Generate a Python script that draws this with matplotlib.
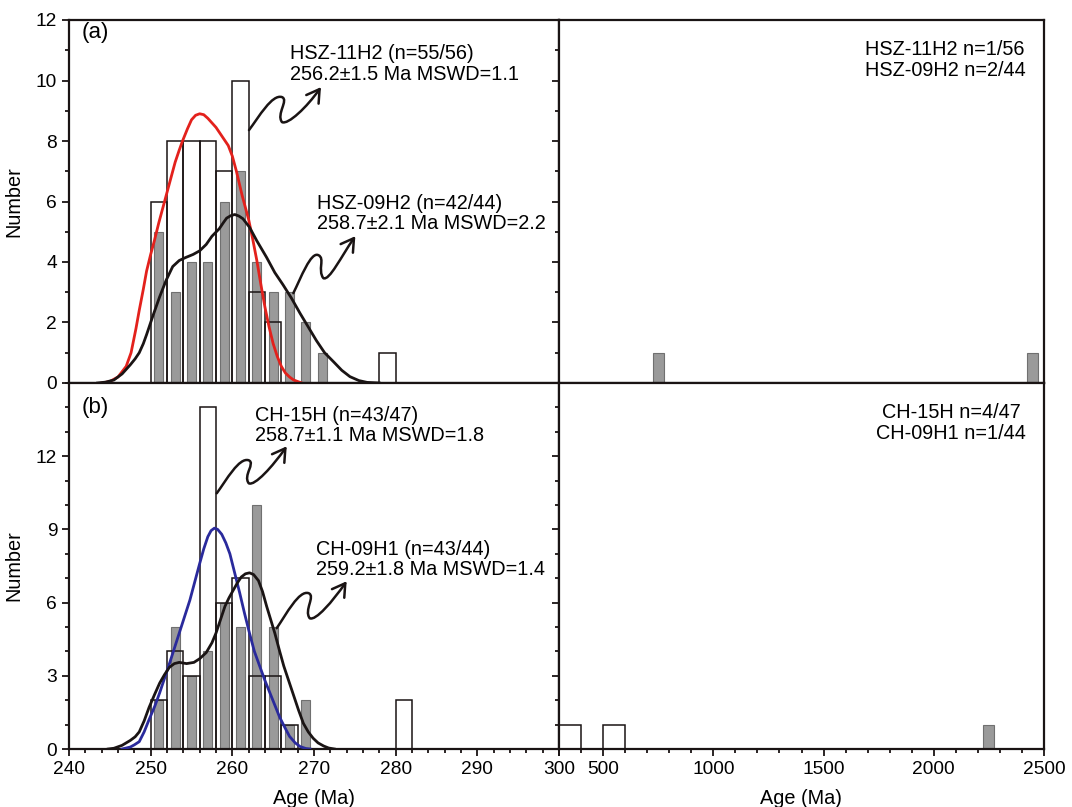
import matplotlib
matplotlib.use('Agg')
import matplotlib.pyplot as plt
import matplotlib.transforms as mtransforms
from matplotlib.path import Path
from matplotlib.patches import FancyArrowPatch
from matplotlib.ticker import MultipleLocator

plt.rcParams['font.family'] = ['Liberation Sans', 'DejaVu Sans']

# ---- data ----
# (a) HSZ-11H2 open bars (bin left edges, 2 Ma bins) and HSZ-09H2 grey bars (bin centres)
a_open_edges = [250, 252, 254, 256, 258, 260, 262, 264, 278]
a_open_counts = [6, 8, 8, 8, 7, 10, 3, 2, 1]
a_grey_centres = [251, 253, 255, 257, 259, 261, 263, 265, 267, 269, 271]
a_grey_counts = [5, 3, 4, 4, 6, 7, 4, 3, 3, 2, 1]

# (b) CH-15H open bars and CH-09H1 grey bars
b_open_edges = [250, 252, 254, 256, 258, 260, 262, 264, 266, 280]
b_open_counts = [2, 4, 3, 14, 6, 7, 3, 3, 1, 2]
b_grey_centres = [251, 253, 255, 257, 259, 261, 263, 265, 267, 269]
b_grey_counts = [2, 5, 3, 4, 6, 5, 10, 5, 1, 2]

# older grains (right panels)
a_old_grey = [750, 2450]
a_old_grey_counts = [1, 1]
b_old_open = [300, 500]
b_old_open_counts = [1, 1]
b_old_grey = [2250]
b_old_grey_counts = [1]

# density curves
red_age = [244, 245, 246, 247, 247.6, 248.2, 248.6, 249.1, 249.5, 250, 250.45, 251, 251.7,
           252.4, 253, 253.5, 253.9, 254.5, 255, 255.5, 256, 256.5, 257, 257.5, 258,
           258.5, 259, 259.5, 260, 260.5, 261.2, 262, 262.5, 263, 263.5, 264, 264.5,
           265, 265.5, 266, 266.5, 267, 267.5, 268.5]
red_val = [0.0, 0.05, 0.2, 0.55, 1.0, 1.8, 2.4, 3.1, 3.7, 4.25, 4.7, 5.3, 6.0,
           6.7, 7.3, 7.7, 8.0, 8.4, 8.7, 8.85, 8.9, 8.87, 8.75, 8.6, 8.45,
           8.25, 8.05, 7.85, 7.5, 7.0, 6.2, 5.4, 4.75, 4.05, 3.25, 2.5, 1.85,
           1.3, 0.88, 0.55, 0.33, 0.2, 0.1, 0.0]

blka_age = [243.5, 244.5, 245.5, 246.5, 247.5, 248.1, 248.6, 249.1, 249.5, 250.25, 251.1,
            251.9, 252.7, 253.5, 254.3, 255.2, 256, 256.8, 257.5, 258.4, 258.9, 259.3,
            259.8, 260.3, 260.8, 261.3, 262.1, 263, 264.2, 265.2, 266.2, 267.25, 268.3,
            269.3, 270.3, 271.3, 272.4, 273.4, 274.4, 275.5, 276.5, 278]
blka_val = [0.0, 0.03, 0.1, 0.3, 0.6, 0.8, 1.0, 1.3, 1.6, 2.2, 2.85,
            3.4, 3.85, 4.05, 4.15, 4.25, 4.37, 4.58, 4.85, 5.1, 5.3, 5.45,
            5.53, 5.57, 5.52, 5.43, 5.15, 4.7, 4.15, 3.65, 3.25, 2.8, 2.3,
            1.85, 1.4, 1.0, 0.7, 0.42, 0.21, 0.08, 0.02, 0.0]

blue_age = [246.5, 247.5, 248, 248.6, 249.2, 249.8, 250.5, 251.1, 252.3, 253.5, 254.8,
            256, 256.5, 257, 257.4, 257.8, 258.2, 258.7, 259.2, 259.7, 260.3, 260.9,
            261.5, 262.1, 262.7, 263.4, 264, 264.6, 265.2, 265.8, 266.4, 267, 267.7,
            268.3, 269, 269.5]
blue_val = [0.0, 0.08, 0.17, 0.3, 0.7, 1.2, 1.75, 2.3, 3.5, 4.75, 6.1,
            7.6, 8.2, 8.7, 8.95, 9.05, 9.0, 8.8, 8.45, 8.0, 7.2, 6.4,
            5.55, 4.75, 4.0, 3.35, 2.8, 2.3, 1.8, 1.3, 0.9, 0.52, 0.25,
            0.1, 0.02, 0.0]

blkb_age = [244.8, 245.5, 246.5, 247.5, 248.1, 248.6, 249.2, 249.8, 250.5, 251.1, 251.7,
            252.3, 252.9, 253.5, 254.4, 255.3, 256, 256.8, 257.5, 258, 258.5, 259.1,
            259.6, 260.1, 260.6, 261.1, 261.6, 262.1, 262.6, 263.2, 263.7, 264.2,
            264.7, 265.2, 265.8, 266.3, 266.9, 267.5, 268.1, 268.7, 269.3, 269.9,
            270.5, 271.2, 271.8, 272.5]
blkb_val = [0.0, 0.03, 0.15, 0.35, 0.5, 0.7, 1.15, 1.7, 2.25, 2.7, 3.05,
            3.35, 3.5, 3.55, 3.5, 3.55, 3.7, 3.95, 4.35, 4.75, 5.25, 5.85,
            6.2, 6.5, 6.8, 7.05, 7.18, 7.22, 7.15, 6.9, 6.45, 5.85,
            5.3, 4.75, 4.0, 3.4, 2.8, 2.2, 1.6, 1.05, 0.7, 0.44,
            0.25, 0.12, 0.04, 0.0]

GREY = '#9a9a9a'
GREY_EDGE = '#707070'
INK = '#1a1414'
FS = 14.3

W, H = 1072, 807
fig = plt.figure(figsize=(W / 100, H / 100), dpi=100)


def box(x0, x1, y0, y1):
    return [x0 / W, 1 - y1 / H, (x1 - x0) / W, (y1 - y0) / H]


ax_a = fig.add_axes(box(69, 559, 20, 383))
ax_a2 = fig.add_axes(box(559, 1044, 20, 383))
ax_b = fig.add_axes(box(69, 559, 383, 749))
ax_b2 = fig.add_axes(box(559, 1044, 383, 749))


def style(ax, left_labels=True, bottom_labels=True):
    for s in ax.spines.values():
        s.set_linewidth(1.6)
        s.set_color(INK)
    ax.tick_params(which='both', direction='out', width=1.3, color=INK,
                   labelsize=13.8, top=False, right=False)
    ax.tick_params(which='major', length=5)
    ax.tick_params(which='minor', length=3)
    if not left_labels:
        ax.tick_params(axis='y', labelleft=False)
    if not bottom_labels:
        ax.tick_params(axis='x', labelbottom=False)


def squiggle(ax, start, crest, trough, end):
    # decorative wavy pointer, offsets in pixels from start point
    s = (0.0, 0.0)
    c, t, e = crest, trough, end
    verts = [s,
             (0.3 * c[0], 0.4 * c[1]), (0.7 * c[0], 1.1 * c[1]), c,
             (c[0] + 7, c[1] - 3), (t[0] - 6, t[1] + 8), t,
             (t[0] + 6, t[1] - 3), (e[0] - 14, e[1] - 20), e]
    verts = [(x / 100.0, y / 100.0) for x, y in verts]
    codes = [Path.MOVETO] + [Path.CURVE4] * 9
    trans = fig.dpi_scale_trans + mtransforms.ScaledTranslation(start[0], start[1], ax.transData)
    arr = FancyArrowPatch(path=Path(verts, codes),
                          arrowstyle='->,head_length=0.5,head_width=0.3',
                          mutation_scale=18, lw=1.8, color=INK,
                          transform=trans, clip_on=False, zorder=6)
    ax.add_patch(arr)


def histo(ax, edges, counts, centres, gcounts, bin_w, grey_w):
    ax.bar(centres, gcounts, width=grey_w, color=GREY, edgecolor=GREY_EDGE,
           linewidth=0.8, zorder=2)
    ax.bar(edges, counts, width=bin_w, align='edge', fill=False,
           edgecolor=INK, linewidth=1.1, zorder=3)


# ---- (a) ----
histo(ax_a, a_open_edges, a_open_counts, a_grey_centres, a_grey_counts, 2, 1.1)
ax_a.plot(red_age, red_val, color='#e3211c', lw=2.0, zorder=4)
ax_a.plot(blka_age, blka_val, color=INK, lw=2.0, zorder=4)
ax_a.set_xlim(240, 300)
ax_a.set_ylim(0, 12)
ax_a.set_xticks(range(240, 301, 10))
ax_a.xaxis.set_minor_locator(MultipleLocator(2))
ax_a.set_yticks(range(0, 13, 2))
ax_a.yaxis.set_minor_locator(MultipleLocator(1))
style(ax_a, bottom_labels=False)
ax_a.set_ylabel('Number', fontsize=FS, labelpad=9)
ax_a.text(241.5, 11.6, '(a)', fontsize=16, va='center', ha='left')
ax_a.text(267.06, 10.71, 'HSZ-11H2 (n=55/56)', fontsize=FS, va='baseline')
ax_a.text(267.06, 10.02, '256.2\u00b11.5 Ma MSWD=1.1', fontsize=FS, va='baseline')
ax_a.text(270.4, 5.75, 'HSZ-09H2 (n=42/44)', fontsize=FS, va='baseline')
ax_a.text(270.4, 5.09, '258.7\u00b12.1 Ma MSWD=2.2', fontsize=FS, va='baseline')
squiggle(ax_a, (262.04, 8.36), (33, 33), (33, 8), (72, 43))
squiggle(ax_a, (267.47, 2.97), (25, 38), (30, 15), (62, 57))

# ---- (a) older grains ----
ax_a2.bar(a_old_grey, a_old_grey_counts, width=50, color=GREY, edgecolor=GREY_EDGE,
          linewidth=0.8, zorder=2)
ax_a2.set_xlim(300, 2500)
ax_a2.set_ylim(0, 12)
ax_a2.set_xticks([300, 500, 1000, 1500, 2000, 2500])
ax_a2.xaxis.set_minor_locator(MultipleLocator(100))
ax_a2.set_yticks(range(0, 13, 2))
ax_a2.yaxis.set_minor_locator(MultipleLocator(1))
style(ax_a2, left_labels=False, bottom_labels=False)
ax_a2.text(2051, 10.84, 'HSZ-11H2 n=1/56', fontsize=FS, ha='center', va='baseline')
ax_a2.text(2051, 10.16, 'HSZ-09H2 n=2/44', fontsize=FS, ha='center', va='baseline')

# ---- (b) ----
histo(ax_b, b_open_edges, b_open_counts, b_grey_centres, b_grey_counts, 2, 1.1)
ax_b.plot(blue_age, blue_val, color='#2a2a9c', lw=2.0, zorder=4)
ax_b.plot(blkb_age, blkb_val, color=INK, lw=2.0, zorder=4)
ax_b.set_xlim(240, 300)
ax_b.set_ylim(0, 15)
ax_b.set_xticks(range(240, 301, 10))
ax_b.set_xticklabels([str(v) for v in range(240, 300, 10)] + [''])
ax_b.xaxis.set_minor_locator(MultipleLocator(2))
ax_b.set_yticks(range(0, 13, 3))
ax_b.yaxis.set_minor_locator(MultipleLocator(1))
style(ax_b)
ax_b.set_ylabel('Number', fontsize=FS, labelpad=9)
ax_b.set_xlabel('Age (Ma)', fontsize=FS, labelpad=8)
ax_b.text(241.5, 13.98, '(b)', fontsize=16, va='center', ha='left')
ax_b.text(262.78, 13.45, 'CH-15H (n=43/47)', fontsize=FS, va='baseline')
ax_b.text(262.78, 12.64, '258.7\u00b11.1 Ma MSWD=1.8', fontsize=FS, va='baseline')
ax_b.text(270.24, 7.95, 'CH-09H1 (n=43/44)', fontsize=FS, va='baseline')
ax_b.text(270.24, 7.13, '259.2\u00b11.8 Ma MSWD=1.4', fontsize=FS, va='baseline')
squiggle(ax_b, (258.09, 10.48), (32, 33), (32, 10), (70, 47))
squiggle(ax_b, (265.43, 4.95), (32, 35), (33, 10), (70, 47))

# ---- (b) older grains ----
ax_b2.bar(b_old_open, b_old_open_counts, width=100, align='edge', fill=False,
          edgecolor=INK, linewidth=1.1, zorder=3)
ax_b2.bar(b_old_grey, b_old_grey_counts, width=50, color=GREY, edgecolor=GREY_EDGE,
          linewidth=0.8, zorder=2)
ax_b2.set_xlim(300, 2500)
ax_b2.set_ylim(0, 15)
ax_b2.set_xticks([300, 500, 1000, 1500, 2000, 2500])
ax_b2.xaxis.set_minor_locator(MultipleLocator(100))
ax_b2.set_yticks(range(0, 13, 3))
ax_b2.yaxis.set_minor_locator(MultipleLocator(1))
style(ax_b2, left_labels=False)
ax_b2.set_xlabel('Age (Ma)', fontsize=FS, labelpad=8)
ax_b2.text(2078, 13.55, 'CH-15H n=4/47', fontsize=FS, ha='center', va='baseline')
ax_b2.text(2078, 12.69, 'CH-09H1 n=1/44', fontsize=FS, ha='center', va='baseline')

fig.savefig('out.png', dpi=100)
